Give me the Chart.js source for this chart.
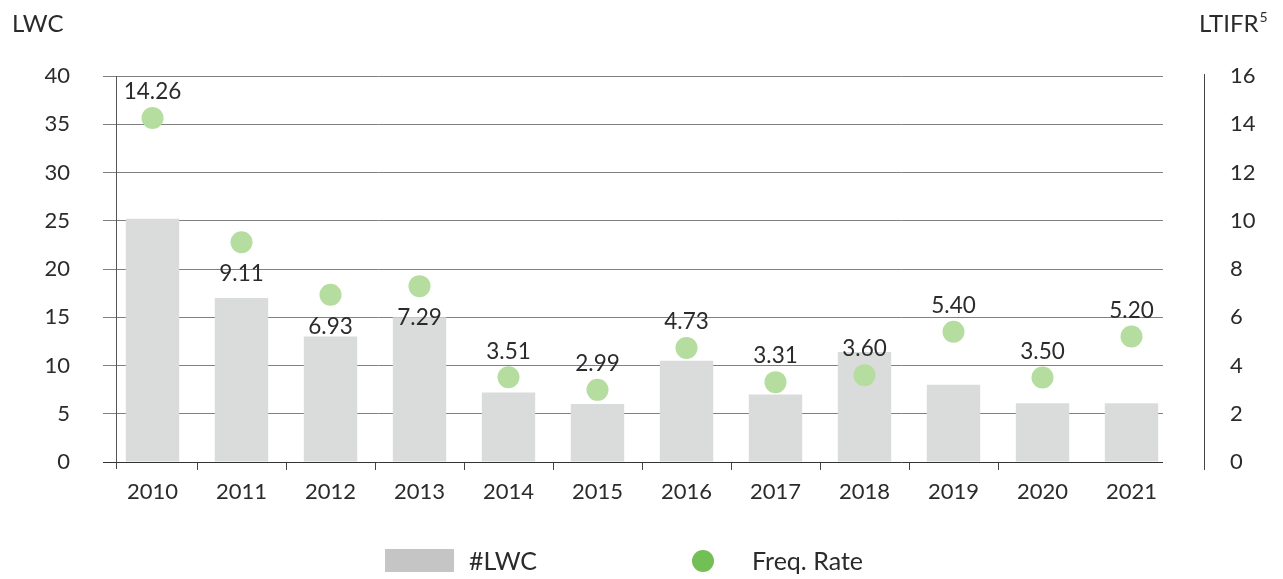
<!DOCTYPE html>
<html>
<head>
<meta charset="utf-8">
<script src="https://cdn.jsdelivr.net/npm/chart.js@4.4.0/dist/chart.umd.min.js"></script>
<style>
  html, body { margin: 0; padding: 0; background: #fff; }
  #wrap { width: 1283px; height: 579px; position: relative; }
</style>
</head>
<body>
<div id="wrap"><canvas id="lwcChart"></canvas></div>
<script>
// datos
const years = ['2010', '2011', '2012', '2013', '2014', '2015', '2016', '2017', '2018', '2019', '2020', '2021'];
const lwc = [25.2, 17, 13, 15, 7.2, 6, 10.5, 7, 11.4, 8, 6.1, 6.1];
const freqRate = [14.26, 9.11, 6.93, 7.29, 3.51, 2.99, 4.73, 3.31, 3.60, 5.40, 3.50, 5.20];
const lwcTicks = [0, 5, 10, 15, 20, 25, 30, 35, 40];
const ltifrTicks = [0, 2, 4, 6, 8, 10, 12, 14, 16];

const FONT = 'Lato, "Open Sans", sans-serif';
const TXT = '#2b2b2b';

// estirar un poco el eje x, como en el original
const stretchX = {
    id: 'stretchX',
    afterLayout(chart) {
        const s = chart.scales.x;
        s._startPixel = 108;
        s._endPixel = 1176;
        s._length = 1068;
    }
};

// etiquetas de los puntos, título de ejes y leyenda
const extras = {
    id: 'extras',
    afterDatasetsDraw(chart) {
        const c = chart.ctx;
        const meta = chart.getDatasetMeta(1);
        c.save();
        c.font = '22.5px ' + FONT;
        c.fillStyle = TXT;
        c.textAlign = 'center';
        c.textBaseline = 'middle';
        meta.data.forEach((pt, i) => {
            const below = i >= 1 && i <= 3;
            c.fillText(freqRate[i].toFixed(2), pt.x, pt.y + (below ? 32 : -26));
        });
        c.restore();
    },
    afterDraw(chart) {
        const c = chart.ctx;
        const yR = chart.scales.yR;
        const y = chart.scales.y;
        c.save();
        c.strokeStyle = '#444';
        c.lineWidth = 1;
        c.beginPath();
        // eje derecho separado
        c.moveTo(1204.5, yR.top - 2);
        c.lineTo(1204.5, yR.bottom + 8);
        // prolongación del eje izquierdo
        c.moveTo(116.5, y.bottom);
        c.lineTo(116.5, y.bottom + 7);
        c.stroke();

        c.font = '24px ' + FONT;
        c.fillStyle = TXT;
        c.textBaseline = 'middle';
        c.textAlign = 'left';
        c.fillText('LWC', 12, 24);
        c.fillText('LTIFR', 1199, 24);
        const w = c.measureText('LTIFR').width;
        c.font = '14px ' + FONT;
        c.fillText('5', 1199 + w + 1, 17);

        // leyenda
        c.fillStyle = '#c4c5c4';
        c.fillRect(385, 549, 69, 23);
        c.font = '25px ' + FONT;
        c.fillStyle = TXT;
        c.fillText('#LWC', 469, 562);
        c.fillStyle = '#72bf56';
        c.beginPath();
        c.arc(703, 561, 11, 0, Math.PI * 2);
        c.fill();
        c.fillStyle = TXT;
        c.fillText('Freq. Rate', 752, 562);
        c.restore();
    }
};

const ctx = document.getElementById('lwcChart').getContext('2d');
new Chart(ctx, {
    type: 'bar',
    data: {
        labels: years,
        datasets: [{
            label: '#LWC',
            data: lwc,
            yAxisID: 'y',
            backgroundColor: '#dadcdb',
            barPercentage: 0.6,
            categoryPercentage: 1,
            order: 2
        }, {
            type: 'line',
            label: 'Freq. Rate',
            data: freqRate,
            yAxisID: 'yR',
            showLine: false,
            pointRadius: 11,
            pointHoverRadius: 11,
            pointBackgroundColor: '#b5dd9f',
            pointBorderWidth: 0,
            order: 1
        }]
    },
    options: {
        responsive: true,
        maintainAspectRatio: false,
        animation: false,
        layout: { padding: { top: 76, left: 0, right: 0, bottom: 0 } },
        plugins: {
            legend: { display: false },
            tooltip: { enabled: false }
        },
        scales: {
            x: {
                afterFit: s => { s.height = 117; },
                grid: {
                    drawOnChartArea: false,
                    drawTicks: true,
                    tickLength: 8,
                    color: c => (c.type !== 'tick' || c.index === 0 || c.index >= 11) ? 'rgba(0,0,0,0)' : '#444'
                },
                border: { display: false },
                ticks: {
                    color: TXT,
                    font: { family: FONT, size: 22 },
                    padding: 9,
                    maxRotation: 0
                }
            },
            y: {
                position: 'left',
                min: 0,
                max: 40,
                afterFit: s => { s.width = 116; },
                afterBuildTicks: s => { s.ticks = lwcTicks.map(v => ({ value: v })); },
                grid: {
                    color: ctx => ctx.tick && ctx.tick.value === 0 ? '#333' : '#808080',
                    tickLength: 13
                },
                border: { color: '#555' },
                ticks: {
                    color: TXT,
                    font: { family: FONT, size: 22 },
                    padding: 33
                }
            },
            yR: {
                position: 'right',
                min: 0,
                max: 16,
                afterFit: s => { s.width = 120; },
                afterBuildTicks: s => { s.ticks = ltifrTicks.map(v => ({ value: v })); },
                grid: { display: false },
                border: { display: false },
                ticks: {
                    color: TXT,
                    font: { family: FONT, size: 22 },
                    padding: 59
                }
            }
        }
    },
    plugins: [stretchX, extras]
});
</script>
</body>
</html>
